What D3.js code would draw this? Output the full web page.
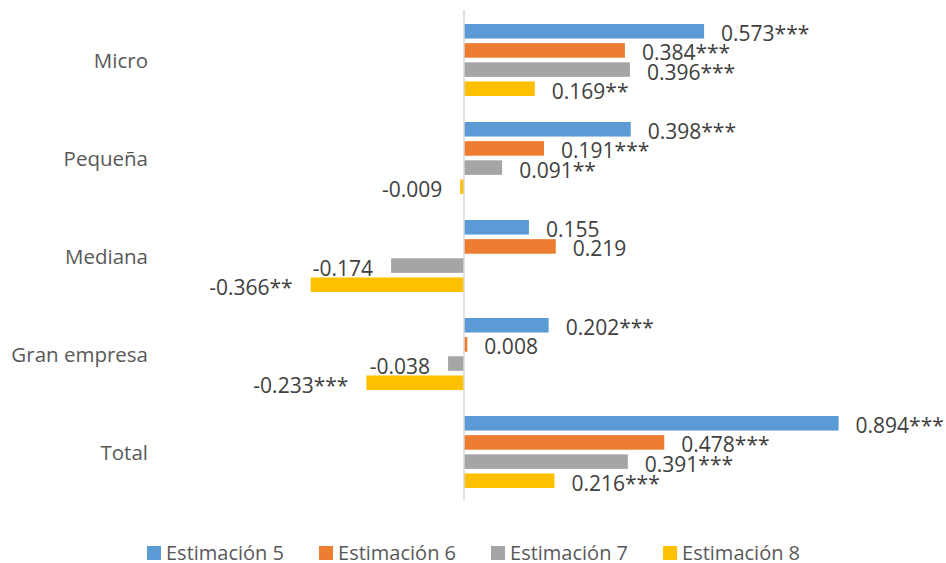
<!DOCTYPE html>
<html>
<head>
<meta charset="utf-8">
<script src="https://cdn.jsdelivr.net/npm/d3@7"></script>
<style>
  body { margin: 0; background: #fff; }
  svg { display: block; font-family: "Open Sans", sans-serif; }
</style>
</head>
<body>
<svg id="chart" width="946" height="563"></svg>
<script>
// DATA
const categories = ["Micro", "Pequeña", "Mediana", "Gran empresa", "Total"];
const seriesNames = ["Estimación 5", "Estimación 6", "Estimación 7", "Estimación 8"];
const est5 = [0.573, 0.398, 0.155, 0.202, 0.894];
const est6 = [0.384, 0.191, 0.219, 0.008, 0.478];
const est7 = [0.396, 0.091, -0.174, -0.038, 0.391];
const est8 = [0.169, -0.009, -0.366, -0.233, 0.216];
const stars5 = ["***", "***", "", "***", "***"];
const stars6 = ["***", "***", "", "", "***"];
const stars7 = ["***", "**", "", "", "***"];
const stars8 = ["**", "", "**", "***", "***"];
const colors = ["#5B9BD5", "#ED7D31", "#A5A5A5", "#FFC000"];

const values = [est5, est6, est7, est8];
const stars = [stars5, stars6, stars7, stars8];

const data = categories.flatMap((c, ci) =>
  seriesNames.map((s, si) => ({
    cat: c,
    series: s,
    value: values[si][ci],
    label: values[si][ci].toFixed(3) + stars[si][ci],
  }))
);

// CANVAS SETUP
const svg = d3.select("#chart");

// SCALES
const xScale = d3.scaleLinear().domain([0, 1]).range([464, 883]);

const yScale = d3
  .scaleBand()
  .domain(categories)
  .range([11, 501])
  .paddingInner(0.265)
  .paddingOuter(0.1325);

const ySub = d3
  .scaleBand()
  .domain(seriesNames)
  .range([0, yScale.bandwidth()])
  .paddingInner(0.24)
  .paddingOuter(0);

const color = d3.scaleOrdinal().domain(seriesNames).range(colors);

// BARS
const g = svg.append("g");

g.selectAll("rect.bar")
  .data(data)
  .join("rect")
  .attr("class", "bar")
  .attr("x", (d) => xScale(Math.min(0, d.value)))
  .attr("width", (d) => Math.abs(xScale(d.value) - xScale(0)))
  .attr("y", (d) => yScale(d.cat) + ySub(d.series))
  .attr("height", ySub.bandwidth())
  .attr("fill", (d) => color(d.series));

// zero axis
g.append("line")
  .attr("x1", xScale(0)).attr("x2", xScale(0))
  .attr("y1", 10).attr("y2", 500)
  .attr("stroke", "#d9d9d9")
  .attr("stroke-width", 1.5);

// data labels
g.selectAll("text.lbl")
  .data(data)
  .join("text")
  .attr("class", "lbl")
  .attr("x", (d) => (d.value >= 0 ? xScale(d.value) + 17 : xScale(d.value) - 18))
  .attr("y", (d) => yScale(d.cat) + ySub(d.series) + ySub.bandwidth() / 2 + 2)
  .attr("dominant-baseline", "central")
  .attr("text-anchor", (d) => (d.value >= 0 ? "start" : "end"))
  .attr("font-size", 21)
  .attr("fill", "#404040")
  .text((d) => d.label);

// category axis labels
svg.append("g")
  .selectAll("text")
  .data(categories)
  .join("text")
  .attr("x", 148)
  .attr("y", (d) => yScale(d) + yScale.bandwidth() / 2)
  .attr("dominant-baseline", "central")
  .attr("text-anchor", "end")
  .attr("font-size", 20.5)
  .attr("fill", "#595959")
  .text((d) => d);

// LEGEND
const legend = svg.append("g").attr("transform", "translate(0,552)");
const items = legend
  .selectAll("g")
  .data(seriesNames)
  .join("g");

items.append("rect")
  .attr("y", -6)
  .attr("width", 14)
  .attr("height", 14)
  .attr("fill", (d) => color(d));

items.append("text")
  .attr("x", 19)
  .attr("dominant-baseline", "central")
  .attr("font-size", 20)
  .attr("fill", "#595959")
  .text((d) => d);

let xpos = 147;
items.each(function () {
  const node = d3.select(this);
  node.attr("transform", `translate(${xpos},0)`);
  xpos += 19 + node.select("text").node().getComputedTextLength() + 35;
});
</script>
</body>
</html>
